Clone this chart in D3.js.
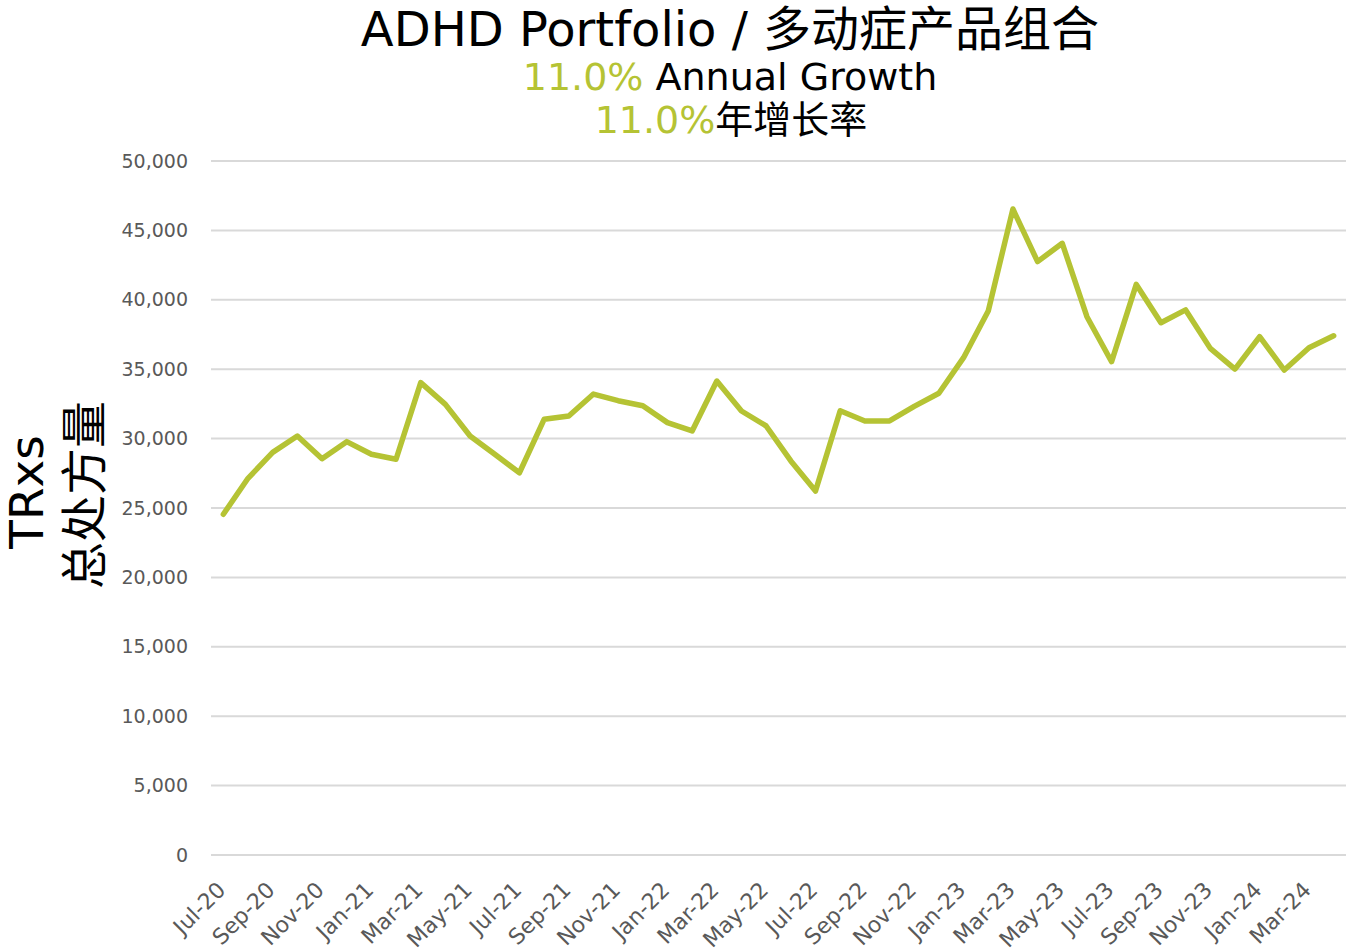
<!DOCTYPE html>
<html lang="en">
<head>
<meta charset="UTF-8" />
<title>ADHD Portfolio</title>
<script src="https://d3js.org/d3.v7.min.js"></script>
<style>
  body { margin: 0; background: #fff; }
  svg text { font-family: "DejaVu Sans", Verdana, "Noto Sans CJK SC", sans-serif; }
</style>
</head>
<body>
<div id="chart"></div>
<script>
// monthly TRxs, Jul-20 .. Apr-24
var months = ["Jul-20","Aug-20","Sep-20","Oct-20","Nov-20","Dec-20",
  "Jan-21","Feb-21","Mar-21","Apr-21","May-21","Jun-21","Jul-21","Aug-21","Sep-21","Oct-21","Nov-21","Dec-21",
  "Jan-22","Feb-22","Mar-22","Apr-22","May-22","Jun-22","Jul-22","Aug-22","Sep-22","Oct-22","Nov-22","Dec-22",
  "Jan-23","Feb-23","Mar-23","Apr-23","May-23","Jun-23","Jul-23","Aug-23","Sep-23","Oct-23","Nov-23","Dec-23",
  "Jan-24","Feb-24","Mar-24","Apr-24"];
var trxs = [24550, 27140, 29010, 30190, 28550, 29780,
  28870, 28510, 34030, 32470, 30190, 28870, 27540, 31390, 31630, 33210, 32730, 32370,
  31150, 30550, 34150, 31990, 30910, 28390, 26220, 32010, 31270, 31270, 32320, 33270,
  35830, 39190, 46540, 42750, 44070, 38780, 35540, 41110, 38350, 39270, 36500, 35010,
  37340, 34940, 36550, 37410];
var yTicks = [0, 5000, 10000, 15000, 20000, 25000, 30000, 35000, 40000, 45000, 50000];
var growth = "11.0%";

var W = 1350, H = 952;
var m = {left: 211, right: 1346, top: 161, bottom: 855};
var green = "#b5c334";

var svg = d3.select("#chart").append("svg")
  .attr("width", W).attr("height", H);

var x = d3.scaleBand().domain(months).range([m.left, m.right]);
var y = d3.scaleLinear().domain([0, 50000]).range([m.bottom, m.top]);

// gridlines
svg.append("g").selectAll("line").data(yTicks).enter().append("line")
  .attr("x1", m.left).attr("x2", m.right)
  .attr("y1", function(d) { return y(d); }).attr("y2", function(d) { return y(d); })
  .attr("stroke", "#d9d9d9").attr("stroke-width", 2);

// y axis labels
var yAxis = svg.append("g")
  .attr("transform", "translate(" + (m.left - 23) + ",0)")
  .call(d3.axisLeft(y).tickValues(yTicks).tickFormat(d3.format(",")).tickSize(0));
yAxis.select(".domain").remove();
yAxis.selectAll("text").attr("fill", "#595959").style("font-size", "19px").attr("x", 0).attr("dy", "0.32em");

// x axis labels, every second month
var xAxis = svg.append("g")
  .attr("transform", "translate(0," + m.bottom + ")")
  .call(d3.axisBottom(x).tickValues(months.filter(function(d, i) { return i % 2 === 0; })).tickSize(0));
xAxis.select(".domain").remove();
xAxis.selectAll("text")
  .attr("fill", "#595959").style("font-size", "22px")
  .attr("text-anchor", "end")
  .attr("transform", "translate(-2,31) rotate(-45)")
  .attr("dy", "0.35em").attr("y", 0);

// line
var line = d3.line()
  .x(function(d, i) { return x(months[i]) + x.bandwidth() / 2; })
  .y(function(d) { return y(d); });
svg.append("path").datum(trxs)
  .attr("d", line)
  .attr("fill", "none").attr("stroke", green)
  .attr("stroke-width", 5.5).attr("stroke-linejoin", "round").attr("stroke-linecap", "round");

// titles
svg.append("text").attr("x", 730).attr("y", 46).attr("text-anchor", "middle")
  .style("font-size", "48px").attr("fill", "#000")
  .text("ADHD Portfolio / 多动症产品组合");

var t2 = svg.append("text").attr("x", 730).attr("y", 90).attr("text-anchor", "middle")
  .style("font-size", "38px").attr("fill", "#000");
t2.append("tspan").attr("fill", green).text(growth);
t2.append("tspan").text(" Annual Growth");

var t3 = svg.append("text").attr("x", 731).attr("y", 133).attr("text-anchor", "middle")
  .style("font-size", "38px").attr("fill", "#000");
t3.append("tspan").attr("fill", green).text(growth);
t3.append("tspan").text("年增长率");

// y axis title
svg.append("text").attr("transform", "translate(43,492) rotate(-90)")
  .attr("text-anchor", "middle").style("font-size", "47px").attr("fill", "#000")
  .text("TRxs");
svg.append("text").attr("transform", "translate(101,495) rotate(-90)")
  .attr("text-anchor", "middle").style("font-size", "47px").attr("fill", "#000")
  .text("总处方量");
</script>
</body>
</html>
